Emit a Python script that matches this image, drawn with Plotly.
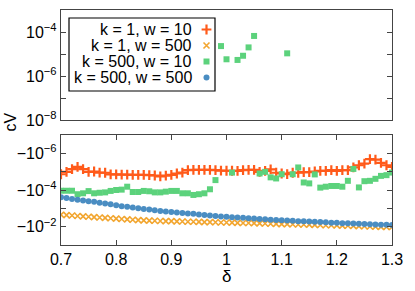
import plotly.graph_objects as go

# ---------------- data (log10 of |c_V|) ----------------
delta = [0.70, 0.71, 0.72, 0.73, 0.74, 0.75, 0.76, 0.77, 0.78, 0.79,
         0.80, 0.81, 0.82, 0.83, 0.84, 0.85, 0.86, 0.87, 0.88, 0.89,
         0.90, 0.91, 0.92, 0.93, 0.94, 0.95, 0.96, 0.97, 0.98, 0.99,
         1.00, 1.01, 1.02, 1.03, 1.04, 1.05, 1.06, 1.07, 1.08, 1.09,
         1.10, 1.11, 1.12, 1.13, 1.14, 1.15, 1.16, 1.17, 1.18, 1.19,
         1.20, 1.21, 1.22, 1.23, 1.24, 1.25, 1.26, 1.27, 1.28, 1.29,
         1.30]

# negative branch: c_V = -10**value
neg_k1_w10 = [-4.86, -4.99, -5.14, -5.26, -5.14, -4.99, -5.01, -4.95, -4.94, -4.85,
              -4.85, -4.84, -4.84, -4.83, -4.83, -4.82, -4.81, -4.79, -4.74, -4.78,
              -4.82, -4.90, -4.95, -5.08, -5.10, -5.10, -5.10, -5.10, -5.08, -5.06,
              -5.05, -5.05, -5.04, -5.08, -5.10, -5.10, -4.99, -5.04, -5.12, -4.94,
              -4.90, -4.87, -4.94, -4.94, -4.97, -4.97, -5.01, -5.04, -5.04, -5.08,
              -5.04, -5.08, -5.08, -5.23, -5.35, -5.44, -5.68, -5.66, -5.48, -5.35,
              -5.26]
neg_k1_w500 = [-2.65, -2.63, -2.61, -2.58, -2.56, -2.54, -2.52, -2.50, -2.48, -2.46,
               -2.44, -2.42, -2.40, -2.38, -2.36, -2.34, -2.33, -2.32, -2.31, -2.30,
               -2.30, -2.29, -2.28, -2.27, -2.27, -2.26, -2.25, -2.25, -2.24, -2.23,
               -2.23, -2.22, -2.21, -2.20, -2.20, -2.19, -2.18, -2.17, -2.16, -2.15,
               -2.14, -2.14, -2.13, -2.12, -2.12, -2.11, -2.10, -2.09, -2.08, -2.08,
               -2.07, -2.06, -2.05, -2.04, -2.03, -2.02, -2.01, -2.00, -1.99, -1.99,
               -1.98]
neg_k500_w10 = [-3.96, -3.96, -3.96, -3.77, -3.82, -3.94, -3.82, -3.85, -3.87, -3.95,
                -4.00, -4.02, -4.18, -3.89, -3.89, -3.95, -3.93, -3.87, -3.87, -3.91,
                -3.95, -3.95, -3.82, -3.82, -3.73, -3.77, -3.82, -4.04, -4.54, None,
                None, -4.95, None, None, None, None, -4.90, -4.99, -4.69, -4.63,
                -4.86, None, -4.86, -5.23, -4.41, -4.36, -4.85, -4.13, -4.18, -4.22,
                -4.22, -4.18, -4.50, -5.15, -4.14, -4.48, -4.50, -4.61, -4.77, -4.81,
                -4.95]
neg_k500_w500 = [-3.60, -3.56, -3.51, -3.47, -3.43, -3.39, -3.36, -3.31, -3.26, -3.22,
                 -3.17, -3.12, -3.08, -3.04, -3.00, -2.96, -2.93, -2.90, -2.86, -2.83,
                 -2.80, -2.77, -2.75, -2.72, -2.70, -2.67, -2.64, -2.61, -2.58, -2.56,
                 -2.54, -2.52, -2.50, -2.48, -2.46, -2.44, -2.42, -2.40, -2.38, -2.36,
                 -2.35, -2.33, -2.32, -2.30, -2.29, -2.28, -2.27, -2.25, -2.24, -2.22,
                 -2.21, -2.19, -2.18, -2.17, -2.16, -2.14, -2.13, -2.12, -2.11, -2.10,
                 -2.09]

# positive branch (top panel): c_V = +10**value
pos_delta_k500_w10 = [0.99, 1.00, 1.02, 1.03, 1.04, 1.05, 1.11]
pos_k500_w10 = [-4.64, -5.24, -5.27, -5.08, -4.70, -4.18, -4.97]

series_names = ["k = 1, w = 10", "k = 1, w = 500", "k = 500, w = 10", "k = 500, w = 500"]
x_ticks = [0.7, 0.8, 0.9, 1.0, 1.1, 1.2, 1.3]
x_tick_text = ["0.7", "0.8", "0.9", "1", "1.1", "1.2", "1.3"]
top_tick_vals = [1e-8, 1e-7, 1e-6, 1e-5, 1e-4]
top_tick_text = ["10<sup>−8</sup>", "", "10<sup>−6</sup>", "", "10<sup>−4</sup>"]
bot_tick_vals = [1e-6, 1e-5, 1e-4, 1e-3, 1e-2]
bot_tick_text = ["−10<sup>−6</sup>", "", "−10<sup>−4</sup>", "", "−10<sup>−2</sup>"]

# ---------------- styles ----------------
C_OR = "#ff5a1a"
C_YE = "#f2a630"
C_GR = "#5cd27c"
C_BL = "#4a8dc2"
styles = [
    dict(symbol="cross-thin", size=7, color=C_OR, line=dict(color=C_OR, width=2.2)),
    dict(symbol="x-thin", size=6, color=C_YE, line=dict(color=C_YE, width=1.6)),
    dict(symbol="square", size=6, color=C_GR, line=dict(width=0)),
    dict(symbol="circle", size=6, color=C_BL, line=dict(width=0)),
]


def mag(vals):
    return [None if v is None else 10 ** v for v in vals]


fig = go.Figure()
bottom_series = [neg_k1_w10, neg_k1_w500, neg_k500_w10, neg_k500_w500]
for s, st in zip(bottom_series, styles):
    fig.add_trace(go.Scatter(x=delta, y=mag(s), mode="markers", marker=st,
                             xaxis="x", yaxis="y", showlegend=False))
fig.add_trace(go.Scatter(x=pos_delta_k500_w10, y=mag(pos_k500_w10), mode="markers",
                         marker=styles[2], xaxis="x2", yaxis="y2", showlegend=False))

# ---------------- geometry (body margin removed by post_script) ----------------
FIG_W, FIG_H = 415, 291
L, T, W, H = 61, 10, 331, 235


def px_x(p):
    return (p - L) / W


def px_y(p):
    return (T + H - p) / H


leg_rows = [29.5, 45.5, 61.5, 77.5]
for r, st in zip(leg_rows, styles):
    fig.add_trace(go.Scatter(x=[px_x(206.5)], y=[px_y(r)], mode="markers", marker=st,
                             xaxis="x3", yaxis="y3", showlegend=False, hoverinfo="skip"))

annotations = []
for name, r in zip(series_names, leg_rows):
    annotations.append(dict(text=name, x=px_x(194), y=px_y(r), xref="paper", yref="paper",
                            xanchor="right", yanchor="middle", showarrow=False,
                            font=dict(size=16, color="black")))
annotations.append(dict(text="cV", x=px_x(10), y=px_y(122.5), xref="paper", yref="paper",
                        textangle=-90, xanchor="center", yanchor="middle", showarrow=False,
                        font=dict(size=16, color="black")))
annotations.append(dict(text="δ", x=px_x(226), y=px_y(276), xref="paper", yref="paper",
                        xanchor="center", yanchor="middle", showarrow=False,
                        font=dict(size=17, color="black")))

shapes = [dict(type="rect", xref="paper", yref="paper", x0=px_x(69), x1=px_x(215),
               y0=px_y(91), y1=px_y(18), line=dict(color="black", width=1.2),
               fillcolor="rgba(0,0,0,0)")]

FRAME = "#444444"
axis_common = dict(showline=True, linecolor=FRAME, linewidth=1.2, mirror="ticks",
                   ticks="inside", ticklen=5, tickcolor=FRAME, tickwidth=1,
                   showgrid=False, zeroline=False, automargin=False,
                   tickfont=dict(size=16, color="black"))

fig.update_layout(
    width=FIG_W, height=FIG_H,
    margin=dict(l=L, r=FIG_W - L - W, t=T, b=FIG_H - T - H, autoexpand=False),
    paper_bgcolor="white", plot_bgcolor="rgba(0,0,0,0)",
    font=dict(family="Liberation Sans, Arial, sans-serif", color="black"),
    xaxis=dict(domain=[0, 1], range=[0.7, 1.3], anchor="y",
               tickvals=x_ticks, ticktext=x_tick_text, **axis_common),
    yaxis=dict(domain=[0, px_y(135)], type="log", range=[-1, -7], anchor="x",
               tickvals=bot_tick_vals, ticktext=bot_tick_text, **axis_common),
    xaxis2=dict(domain=[0, 1], range=[0.7, 1.3], anchor="y2", showticklabels=False,
                showline=True, linecolor=FRAME, linewidth=1.2, mirror=True,
                ticks="", showgrid=False, zeroline=False),
    yaxis2=dict(domain=[px_y(120), 1], type="log", range=[-8, -3], anchor="x2",
                tickvals=top_tick_vals, ticktext=top_tick_text, **axis_common),
    xaxis3=dict(domain=[0, 1], range=[0, 1], anchor="y3", visible=False),
    yaxis3=dict(domain=[0, 1], range=[0, 1], anchor="x3", visible=False),
    annotations=annotations,
    shapes=shapes,
    showlegend=False,
    hovermode=False,
)

fig.write_html("out.html", config={"displayModeBar": False, "staticPlot": True},
               post_script="document.body.style.margin='0px';document.body.style.overflow='hidden';")
